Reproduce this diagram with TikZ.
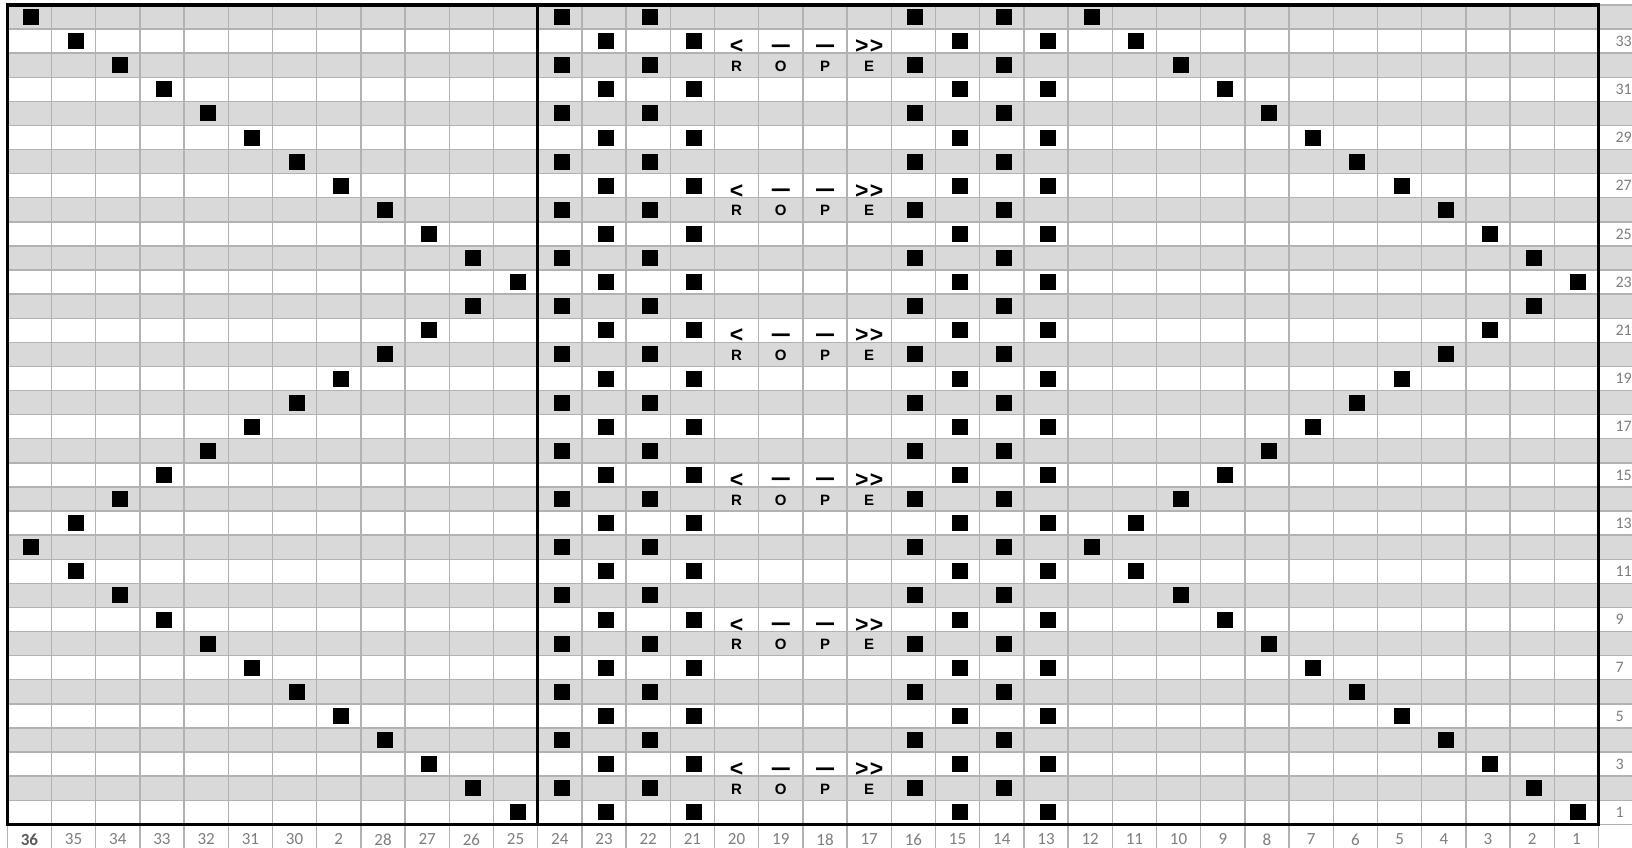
\documentclass[tikz,border=0pt]{standalone}
\usepackage{fontspec}
\setmainfont{Carlito}
\newfontfamily\chartfont{Liberation Sans}
\definecolor{rowgray}{RGB}{217,217,217}
\definecolor{gridgray}{RGB}{178,178,178}
\definecolor{numgray}{RGB}{125,125,125}
\definecolor{numdark}{RGB}{89,89,89}
\newcommand{\purl}[2]{\fill (#1,#2) ++(-6pt,-8pt) rectangle ++(16pt,16pt);}

\begin{document}
\begin{tikzpicture}[x=44.2pt,y=24.1pt,
        gridline/.style={draw=gridgray,line width=1.4pt},
        frame/.style={line width=3.2pt,line cap=rect},
        numlabel/.style={text=numgray,inner sep=0pt,
            font=\fontsize{17}{20}\selectfont},
        cabletext/.style={anchor=base,inner sep=0pt,
            font=\chartfont\bfseries\fontsize{23}{26}\selectfont},
        dashtext/.style={anchor=base,inner sep=0pt,
            font=\chartfont\bfseries\fontsize{18}{20}\selectfont},
        ropetext/.style={anchor=base,inner sep=0pt,
            font=\chartfont\bfseries\fontsize{15}{17}\selectfont}]
    \def\w{36}
    \def\h{34}
    \def\rw{36.758}
    \useasboundingbox (-0.165,-0.979) rectangle (\rw,34.207);

    % shaded rows and grid
    \foreach \r in {2,4,...,\h}
        \fill[rowgray] (0,\r-1) rectangle (\rw,\r);
    \foreach \r in {0,...,\h}
        \draw[gridline] (0,\r) -- (\rw,\r);
    \foreach \c in {0,...,\w}
        \draw[gridline] (\c,-0.979) -- (\c,\h);

    % stitches
    \foreach \r in {1,...,\h} {
        \pgfmathtruncatemacro\m{mod(\r-1,22)}
        \pgfmathtruncatemacro\f{\m<12 ? \m+1 : 23-\m}
        \pgfmathtruncatemacro\s{1-mod(\r,2)}
        \purl{12.5-\f}{\r-0.5}
        \purl{36.5-\f}{\r-0.5}
        \foreach \c in {23,21,15,13} {\purl{36.5-\c-\s}{\r-0.5}}
    }

    % cables
    \foreach \r in {3,9,...,33} {
        \node[cabletext] (cbl\r-a) at ([yshift=-12.5pt]16.5,\r-0.5) {<};
        \node[dashtext] (cbl\r-b) at ([yshift=-11.9pt]17.5,\r-0.5)
            {\scalebox{1}[1.5]{—}};
        \node[dashtext] (cbl\r-c) at ([yshift=-11.9pt]18.5,\r-0.5)
            {\scalebox{1}[1.5]{—}};
        \node[cabletext] (cbl\r-d) at ([yshift=-12.5pt]19.5,\r-0.5)
            {>\kern1.5pt>};
    }
    \foreach \r in {2,8,...,32} {
        \node[ropetext] (rope\r-a) at ([yshift=-6pt]16.5,\r-0.5) {R};
        \node[ropetext] (rope\r-b) at ([yshift=-6pt]17.5,\r-0.5) {O};
        \node[ropetext] (rope\r-c) at ([yshift=-6pt]18.5,\r-0.5) {P};
        \node[ropetext] (rope\r-d) at ([yshift=-6pt]19.5,\r-0.5) {E};
    }

    % row and stitch numbers
    \foreach \r in {1,3,...,33}
        \node[numlabel,anchor=west,font=\fontsize{16}{19}\selectfont]
            (row\r) at (36.38,\r-0.5) {\r};
    \foreach \c in {1,...,35} {
        \ifnum\c=29 \def\txt{2}\else \edef\txt{\c}\fi
        \node[numlabel] (col\c) at (36.5-\c,-0.62) {\txt};
    }
    \node[numlabel,text=numdark,font=\bfseries\fontsize{17}{20}\selectfont]
        (col36) at (0.5,-0.62) {36};

    \draw[frame] (0,0) rectangle (\w,\h);
    \draw[frame] (12,0) -- (12,\h);
\end{tikzpicture}
\end{document}
